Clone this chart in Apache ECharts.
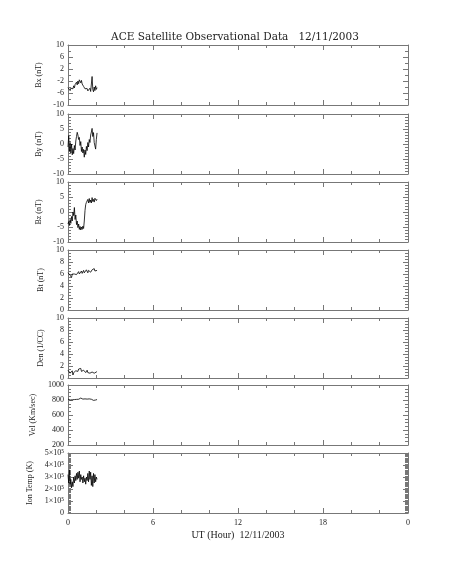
<!DOCTYPE html>
<html><head><meta charset="utf-8">
<script src="https://cdn.jsdelivr.net/npm/echarts@6/dist/echarts.min.js"></script>
<style>html,body{margin:0;padding:0;background:#fff}#c{width:453px;height:566px}</style>
</head><body><div id="c"></div>
<script>
// Time (UT hours) for samples
const hours = [0.00,0.05,0.10,0.15,0.20,0.25,0.30,0.35,0.40,0.45,0.50,0.55,0.60,0.65,0.70,0.75,0.80,0.85,0.90,0.95,1.00,1.05,1.10,1.15,1.20,1.25,1.30,1.35,1.40,1.45,1.50,1.55,1.60,1.65,1.70,1.75,1.80,1.85,1.90,1.95,2.00,2.05];
const bx = [-4.2,-4.8,-3.9,-5.2,-4.4,-5.0,-4.0,-4.6,-3.6,-4.3,-3.2,-3.8,-2.4,-3.3,-2.0,-2.9,-1.6,-1.0,-2.6,-1.8,-3.0,-2.4,-3.8,-3.2,-4.6,-4.0,-5.0,-4.5,-5.3,-4.8,-5.1,-4.4,-5.5,-3.0,-0.5,-4.8,-5.6,-4.0,-5.2,-3.6,-4.8,-4.2];
const by = [-1.0,2.8,-2.5,0.5,-3.0,0.0,-3.6,-1.5,-3.2,-0.5,-2.0,1.0,2.5,3.9,3.0,1.5,2.2,-0.5,0.8,-2.5,-1.0,-3.0,-1.8,-4.4,-2.0,-3.5,-0.8,-2.2,0.5,-1.0,1.5,0.5,3.0,4.0,5.2,2.5,3.8,0.5,1.0,-1.7,1.5,3.7];
const bz = [-4.0,-3.2,-4.5,-2.5,-3.8,-1.5,-3.0,0.0,-1.2,1.5,-2.5,-1.0,-4.2,-3.0,-5.2,-4.0,-5.8,-4.8,-6.0,-5.0,-5.8,-4.7,-5.5,-3.0,0.5,2.5,3.2,2.6,4.2,3.0,4.5,3.2,4.0,3.0,4.8,3.5,4.2,3.3,4.6,5.2,3.8,4.3];
const bt = [6.2,6.0,6.3,5.8,6.1,5.4,6.0,5.9,6.2,6.0,6.1,6.3,5.9,6.2,6.1,6.4,6.0,6.3,6.2,6.5,6.1,6.3,6.6,6.2,6.4,6.3,6.7,6.4,6.2,6.6,6.4,6.8,6.3,6.5,6.7,6.4,6.6,6.9,6.5,6.7,6.4,6.6];
const den = [1.3,1.0,1.4,0.8,1.1,0.9,1.2,0.5,0.9,1.1,0.8,1.2,1.0,1.4,1.1,1.5,1.2,1.3,1.6,1.1,1.4,1.2,1.3,1.0,1.2,0.9,1.1,1.3,0.9,1.0,1.2,0.8,1.1,0.9,1.0,0.7,1.0,0.8,1.1,0.9,1.0,1.1];
const vel = [812,805,808,800,806,810,803,808,812,806,810,815,808,812,818,810,822,815,826,818,820,812,818,808,815,810,806,812,800,808,815,805,798,810,802,812,795,808,815,800,812,806];
const temp = [3.2e5,2.5e5,3.6e5,2.4e5,2.8e5,2.1e5,2.6e5,2.2e5,3.0e5,2.5e5,3.1e5,2.7e5,3.3e5,2.8e5,3.4e5,2.9e5,3.5e5,2.6e5,3.2e5,2.8e5,3.0e5,2.5e5,3.1e5,2.6e5,2.9e5,2.4e5,3.0e5,2.7e5,3.3e5,2.6e5,3.5e5,2.8e5,3.4e5,2.3e5,3.1e5,2.2e5,3.3e5,2.5e5,3.2e5,2.6e5,3.0e5,2.8e5];

const xTickLabels = {0:'0',6:'6',12:'12',18:'18',24:'0'};
const tempLabels = ['0','1×10⁵','2×10⁵','3×10⁵','4×10⁵','5×10⁵'];

const panels = [
  {name:'Bx (nT)', data:bx, min:-10, max:10, interval:4, minor:2, gap:23},
  {name:'By (nT)', data:by, min:-10, max:10, interval:5, minor:5, gap:23},
  {name:'Bz (nT)', data:bz, min:-10, max:10, interval:5, minor:5, gap:23},
  {name:'Bt (nT)', data:bt, min:0, max:10, interval:2, minor:4, gap:18},
  {name:'Den (1/CC)', data:den, min:0, max:10, interval:2, minor:4, gap:19},
  {name:'Vel (Km/sec)', data:vel, min:200, max:1000, interval:200, minor:4, gap:29},
  {name:'Ion Temp (K)', data:temp, min:0, max:5e5, interval:1e5, minor:10, gap:33, fmt:v=>tempLabels[Math.round(v/1e5)]}
];
const tops = [45,114,182,250,318,385,453];
const FONT = 'Liberation Serif';
const AXC = '#777';
const TXT = '#222';

const grid=[], xAxis=[], yAxis=[], series=[];
panels.forEach((p,i)=>{
  grid.push({left:68, width:340, top:tops[i], height:60});
  const last = i===panels.length-1;
  const xBase = {
    type:'value', min:0, max:24, interval:6, gridIndex:i,
    axisLine:{show:true, onZero:false, lineStyle:{color:AXC, width:1}},
    axisTick:{show:true, inside:true, length:5, lineStyle:{color:AXC, width:1}},
    minorTick:{show:true, splitNumber:3, length:3, lineStyle:{color:AXC, width:1}},
    splitLine:{show:false}
  };
  xAxis.push(Object.assign({}, xBase, {
    position:'bottom',
    axisLabel:{show:last, fontFamily:FONT, fontSize:8, color:TXT, margin:6, formatter:v=>xTickLabels[v]},
    name: last ? 'UT (Hour)  12/11/2003' : '', nameLocation:'middle', nameGap:17,
    nameTextStyle:{fontFamily:FONT, fontSize:10, color:TXT}
  }));
  xAxis.push(Object.assign({}, xBase, {position:'top', axisLabel:{show:false}}));
  const yBase = {
    type:'value', min:p.min, max:p.max, interval:p.interval, gridIndex:i,
    axisLine:{show:true, onZero:false, lineStyle:{color:AXC, width:1}},
    axisTick:{show:true, inside:true, length:5, lineStyle:{color:AXC, width:1}},
    minorTick:{show:true, splitNumber:p.minor, length:3, lineStyle:{color:AXC, width:1}},
    splitLine:{show:false}
  };
  yAxis.push(Object.assign({}, yBase, {
    position:'left',
    axisLabel:{fontFamily:FONT, fontSize:8, color:TXT, margin:4, formatter:p.fmt||(v=>String(v))},
    name:p.name, nameLocation:'middle', nameGap:p.gap, nameRotate:90,
    nameTextStyle:{fontFamily:FONT, fontSize:8, color:TXT}
  }));
  yAxis.push(Object.assign({}, yBase, {position:'right', axisLabel:{show:false}}));
  series.push({
    type:'line', xAxisIndex:2*i, yAxisIndex:2*i, showSymbol:false, symbol:'none',
    lineStyle:{color:'#000', width:0.8}, animation:false,
    data: hours.map((h,k)=>[h, p.data[k]])
  });
});

const chart = echarts.init(document.getElementById('c'), null, {renderer:'canvas'});
chart.setOption({
  animation:false,
  backgroundColor:'#fff',
  title:{text:'ACE Satellite Observational Data   12/11/2003', left:235, top:32, padding:0, textAlign:'center',
    textStyle:{fontFamily:'DejaVu Serif', fontSize:10.5, fontWeight:'normal', color:TXT}},
  grid, xAxis, yAxis, series
});
</script></body></html>
